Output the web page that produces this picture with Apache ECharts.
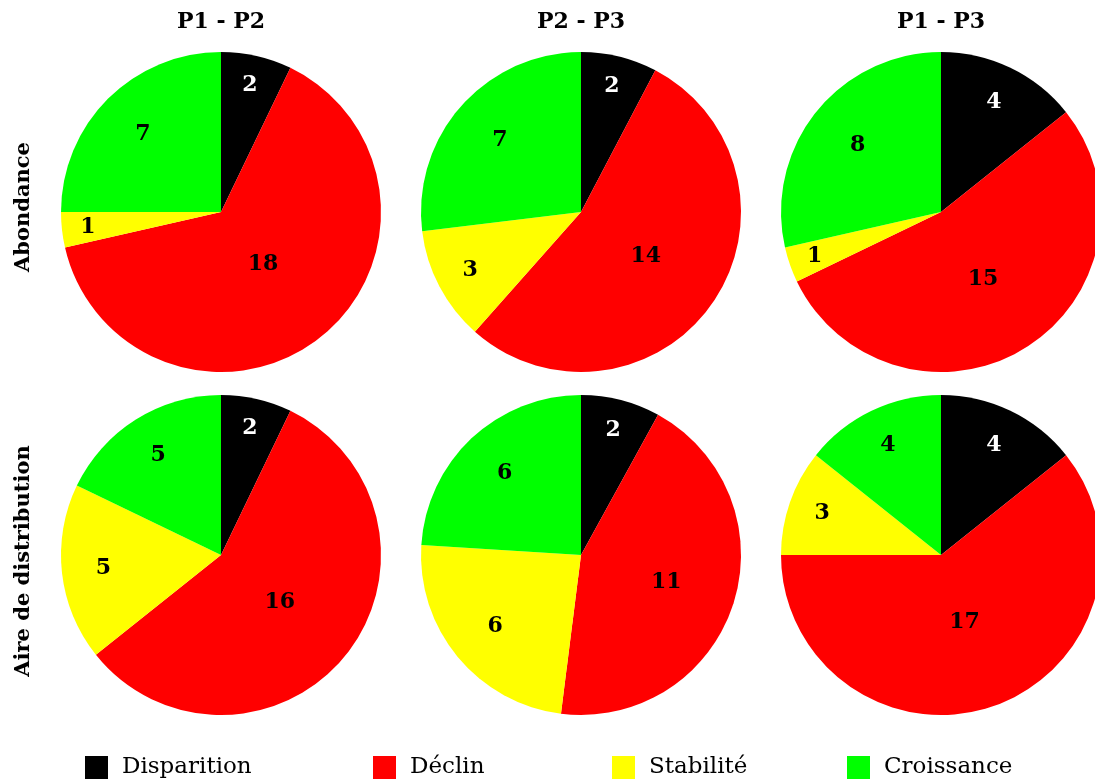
<!DOCTYPE html>
<html>
<head>
<meta charset="utf-8">
<script src="https://cdn.jsdelivr.net/npm/echarts@6/dist/echarts.min.js"></script>
<style>
html,body{margin:0;padding:0;background:#fff;}
#chart{width:1095px;height:782px;}
</style>
</head>
<body>
<div id="chart"></div>
<script>
// ---- data ----
const categories = ['Disparition', 'Déclin', 'Stabilité', 'Croissance'];
const periods = ['P1 - P2', 'P2 - P3', 'P1 - P3'];
const rowLabels = ['Abondance', 'Aire de distribution'];
const abondanceP1P2 = [2, 18, 1, 7];
const abondanceP2P3 = [2, 14, 3, 7];
const abondanceP1P3 = [4, 15, 1, 8];
const aireP1P2 = [2, 16, 5, 5];
const aireP2P3 = [2, 11, 6, 6];
const aireP1P3 = [4, 17, 3, 4];

// ---- layout / style ----
const colors = ['#000000', '#ff0000', '#ffff00', '#00ff00'];
const colX = [221, 581, 941];
const rowY = [212, 555];
const R = 160;
const FONT = 'DejaVu Serif';

const grid = [
  [abondanceP1P2, abondanceP2P3, abondanceP1P3],
  [aireP1P2, aireP2P3, aireP1P3]
];

const series = [];
const seriesMeta = [];
grid.forEach((row, ri) => {
  row.forEach((vals, ci) => {
    const total = vals.reduce((a, b) => a + b, 0);
    seriesMeta.push({cx: colX[ci], cy: rowY[ri], vals, total});
    series.push({
      type: 'pie',
      center: [colX[ci], rowY[ri]],
      radius: [0, R],
      startAngle: 90,
      clockwise: true,
      animation: false,
      silent: true,
      avoidLabelOverlap: false,
      itemStyle: {borderWidth: 0},
      labelLine: {show: false},
      label: {
        show: true,
        position: 'inside',
        formatter: '{c}',
        fontFamily: FONT,
        fontWeight: 'bold',
        fontSize: 22,
        color: '#000'
      },
      labelLayout: function (p) {
        const m = seriesMeta[p.seriesIndex];
        const share = m.vals[p.dataIndex] / m.total;
        const f = 0.83 - 0.66 * share;
        const lx = p.labelRect.x + p.labelRect.width / 2;
        const ly = p.labelRect.y + p.labelRect.height / 2;
        const k = 2 * f - 1;
        return {dx: (lx - m.cx) * k, dy: (ly - m.cy) * k};
      },
      data: vals.map((v, i) => ({
        name: categories[i],
        value: v,
        itemStyle: {color: colors[i]},
        label: {color: i === 0 ? '#fff' : '#000'}
      }))
    });
  });
});

const legendLeft = [85, 373, 612, 847];
const legends = categories.map((c, i) => ({
  data: [c],
  left: legendLeft[i],
  top: 756,
  padding: 0,
  icon: 'rect',
  itemWidth: 23,
  itemHeight: 23,
  selectedMode: false,
  textStyle: {fontFamily: FONT, fontSize: 23, color: '#000', padding: [4, 0, 0, 9]}
}));

const graphics = [];
periods.forEach((p, i) => {
  graphics.push({
    type: 'text', x: colX[i], y: 22,
    style: {text: p, font: 'bold 22px "' + FONT + '"', fill: '#000', textAlign: 'center', textVerticalAlign: 'middle'}
  });
});
rowLabels.forEach((t, i) => {
  graphics.push({
    type: 'text', x: 24, y: rowY[i] + (i === 0 ? -5 : 6), rotation: Math.PI / 2,
    style: {text: t, font: 'bold 21px "' + FONT + '"', fill: '#000', textAlign: 'center', textVerticalAlign: 'middle'}
  });
});

const chart = echarts.init(document.getElementById('chart'), null, {renderer: 'canvas'});
chart.setOption({
  backgroundColor: '#ffffff',
  animation: false,
  legend: legends,
  graphic: graphics,
  series: series
});
</script>
</body>
</html>
